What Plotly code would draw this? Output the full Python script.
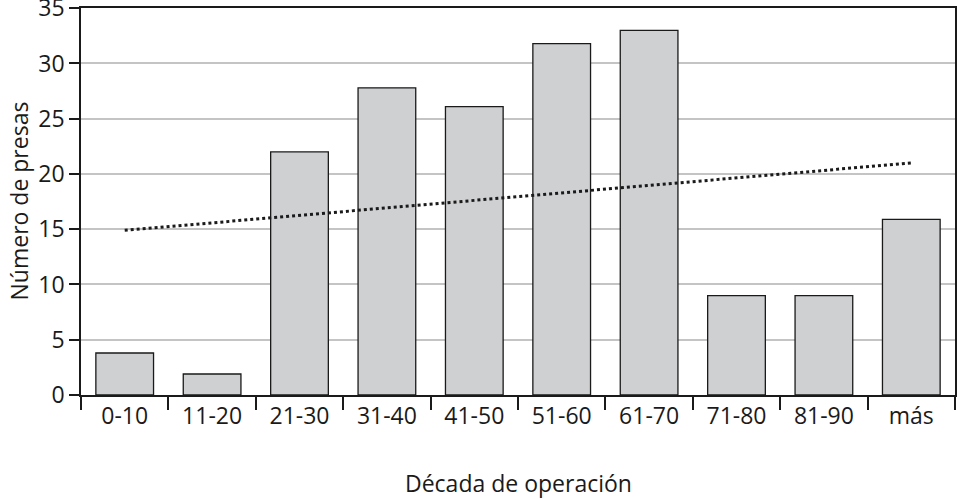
import plotly.graph_objects as go

categories = ["0-10", "11-20", "21-30", "31-40", "41-50", "51-60", "61-70", "71-80", "81-90", "más"]
presas = [3.8, 1.9, 22, 27.8, 26.1, 31.8, 33, 9, 9, 15.9]
trend_x = ["0-10", "más"]
trend_y = [14.9, 21.0]
y_ticks = [0, 5, 10, 15, 20, 25, 30, 35]

FONT = "Open Sans, Liberation Sans, sans-serif"
FS = 23

fig = go.Figure()
fig.add_trace(go.Bar(
    x=categories, y=presas,
    marker=dict(color="#cfd0d2", line=dict(color="#1a1a1a", width=1.3)),
    showlegend=False,
))
fig.add_trace(go.Scatter(
    x=trend_x, y=trend_y, mode="lines",
    line=dict(color="#1a1a1a", width=3, dash="dot"),
    showlegend=False,
))

fig.update_layout(
    width=957, height=499,
    margin=dict(l=81, r=2, t=8, b=104),
    paper_bgcolor="white", plot_bgcolor="white",
    bargap=0.34,
    font=dict(family=FONT, size=FS, color="#1a1a1a"),
    xaxis=dict(
        type="category",
        range=[-0.5, 9.5],
        automargin=False,
        showline=True, linecolor="#1a1a1a", linewidth=1.5, mirror=True,
        ticks="outside", tickson="boundaries", ticklen=13, tickwidth=1.5, tickcolor="#1a1a1a",
        showgrid=False,
        tickfont=dict(size=FS),
    ),
    yaxis=dict(
        range=[0, 35.02],
        tickvals=y_ticks,
        automargin=False,
        ticklabeloverflow="allow",
        showline=True, linecolor="#1a1a1a", linewidth=1.5, mirror=True,
        ticks="outside", ticklen=10, tickwidth=1.5, tickcolor="#1a1a1a",
        showgrid=True, gridcolor="#c4c4c4", gridwidth=1.5,
        zeroline=False,
        tickfont=dict(size=FS),
    ),
    annotations=[
        dict(text="Década de operación", xref="paper", yref="paper",
             x=0.5, y=0, yshift=-88, showarrow=False, font=dict(size=FS),
             xanchor="center", yanchor="middle"),
        dict(text="Número de presas", xref="paper", yref="paper",
             x=0, y=0.5, xshift=-63, showarrow=False, font=dict(size=FS),
             textangle=-90, xanchor="center", yanchor="middle"),
    ],
)

fig.write_html("out.html", config={"displayModeBar": False},
               post_script="document.body.style.margin='0';document.body.style.padding='0';")
